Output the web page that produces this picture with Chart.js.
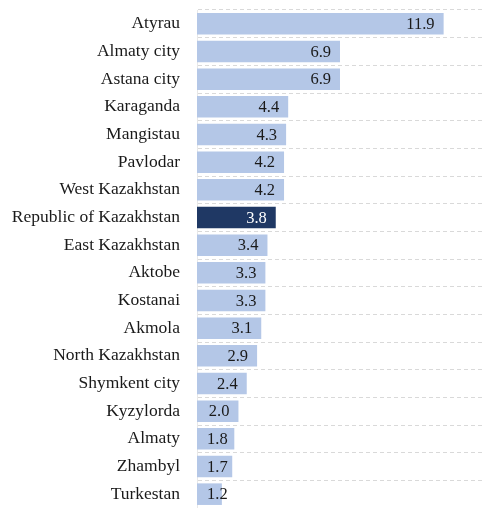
<!DOCTYPE html>
<html>
<head>
<meta charset="utf-8">
<script src="https://cdn.jsdelivr.net/npm/chart.js@4"></script>
<style>
  html, body { margin: 0; padding: 0; background: #fff; }
  #wrap { width: 483px; height: 508px; }
</style>
</head>
<body>
<div id="wrap"><canvas id="regionChart"></canvas></div>
<script>
// regions and values
var regions = ['Atyrau', 'Almaty city', 'Astana city', 'Karaganda', 'Mangistau', 'Pavlodar',
    'West Kazakhstan', 'Republic of Kazakhstan', 'East Kazakhstan', 'Aktobe', 'Kostanai',
    'Akmola', 'North Kazakhstan', 'Shymkent city', 'Kyzylorda', 'Almaty', 'Zhambyl', 'Turkestan'];
var values = [11.9, 6.9, 6.9, 4.4, 4.3, 4.2, 4.2, 3.8, 3.4, 3.3, 3.3, 3.1, 2.9, 2.4, 2.0, 1.8, 1.7, 1.2];
var highlight = 'Republic of Kazakhstan';

var FONT = '"Liberation Serif", "DejaVu Serif", serif';

var barColors = regions.map(function (r) {
    return r === highlight ? '#1F3864' : '#B4C7E7';
});

// draw the value at the end of each bar
var valueLabels = {
    id: 'valueLabels',
    afterDatasetsDraw: function (chart) {
        var ctx = chart.ctx;
        var meta = chart.getDatasetMeta(0);
        ctx.save();
        ctx.font = '16.5px ' + FONT;
        ctx.textAlign = 'right';
        ctx.textBaseline = 'middle';
        meta.data.forEach(function (bar, i) {
            var txt = values[i].toFixed(1);
            var w = ctx.measureText(txt).width;
            var x = Math.max(bar.x - 9, bar.base + 10 + w);
            ctx.fillStyle = regions[i] === highlight ? '#ffffff' : '#1a1a1a';
            ctx.fillText(txt, x, bar.y + 1);
        });
        ctx.restore();
    }
};

var ctx = document.getElementById('regionChart').getContext('2d');
var regionChart = new Chart(ctx, {
    type: 'bar',
    data: {
        labels: regions,
        datasets: [{
            data: values,
            backgroundColor: barColors,
            barPercentage: 0.78,
            categoryPercentage: 1.0
        }]
    },
    options: {
        indexAxis: 'y',
        responsive: true,
        maintainAspectRatio: false,
        animation: false,
        layout: { padding: { top: 10, right: 0, bottom: 0, left: 0 } },
        plugins: {
            legend: { display: false },
            tooltip: { enabled: false }
        },
        scales: {
            x: {
                display: false,
                min: 0,
                max: 13.8
            },
            y: {
                afterFit: function (scale) {
                    scale.width = 197;
                    scale.paddingTop = 0;
                    scale.paddingBottom = 0;
                },
                grid: {
                    offset: true,
                    drawTicks: false,
                    color: '#d9d9d9',
                    lineWidth: 1
                },
                border: { display: true, color: '#e8e8e8', dash: [4, 3] },
                ticks: {
                    padding: 17,
                    color: '#1a1a1a',
                    font: { family: FONT, size: 17.5 }
                }
            }
        }
    },
    plugins: [valueLabels]
});
</script>
</body>
</html>
